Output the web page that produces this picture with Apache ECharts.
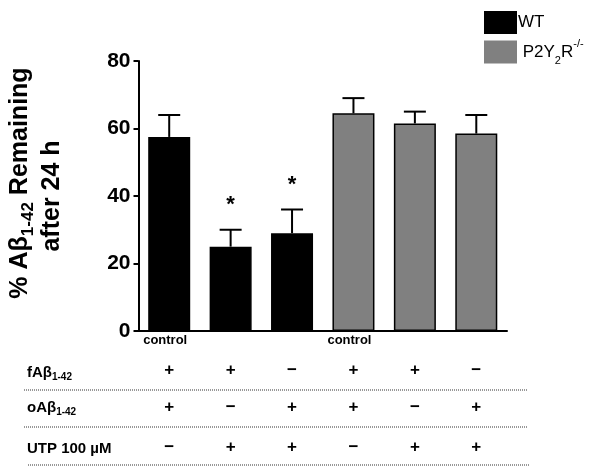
<!DOCTYPE html>
<html>
<head>
<meta charset="utf-8">
<script src="https://cdn.jsdelivr.net/npm/echarts@6/dist/echarts.min.js"></script>
<style>html,body{margin:0;padding:0;background:#fff;}#c{width:601px;height:472px;}</style>
</head>
<body>
<div id="c"></div>
<script>
const categories = ['WT control','WT fAβ UTP','WT oAβ UTP','KO control','KO fAβ UTP','KO oAβ UTP'];
const catLabels = ['control','','','control','',''];
const wtMean = [57.5, 25, 29, null, null, null];
const koMean = [null, null, null, 64.5, 61.5, 58.5];
const semUp = [6.5, 5, 7, 4.5, 3.5, 5.5];
const significant = ['', '*', '*', '', '', ''];
const fAbRow = ['+', '+', '−', '+', '+', '−'];
const oAbRow = ['+', '−', '+', '+', '−', '+'];
const utpRow = ['−', '+', '+', '−', '+', '+'];
const yTicks = [0, 20, 40, 60, 80];
const seriesNames = ['WT', 'P2Y2R-/-'];

const FONT = '"Liberation Sans", Arial, sans-serif';
const chart = echarts.init(document.getElementById('c'), null, {renderer: 'canvas'});

const errData = categories.map((c, i) => {
  const m = wtMean[i] != null ? wtMean[i] : koMean[i];
  return [i, m, m + semUp[i]];
});

function rowAxis(labels, offset) {
  return {
    type: 'category', gridIndex: 0, position: 'bottom', offset: offset,
    data: categories,
    axisLine: {show: false}, axisTick: {show: false},
    axisLabel: {
      interval: 0, margin: 0,
      formatter: (v, i) => labels[i],
      fontFamily: FONT, fontWeight: 'bold', fontSize: 17, color: '#000'
    }
  };
}

const option = {
  animation: false,
  backgroundColor: '#fff',
  grid: {left: 133, right: 94, top: 61, bottom: 141, containLabel: false},
  legend: {
    orient: 'vertical', left: 479, top: 6, itemWidth: 33, itemHeight: 23, itemGap: 4,
    icon: 'rect',
    data: [
      {name: seriesNames[0], itemStyle: {color: '#000', borderWidth: 0}},
      {name: seriesNames[1], itemStyle: {color: '#808080', borderWidth: 0}}
    ],
    formatter: name => name === 'WT' ? '{n|WT}' : '{n| P2Y}{s|2}{n|R}{p|-/-}',
    textStyle: {
      fontFamily: FONT, color: '#000', fontSize: 17, padding: [0, 0, 0, -4],
      rich: {
        n: {fontFamily: FONT, fontSize: 17, color: '#000', lineHeight: 22},
        s: {fontFamily: FONT, fontSize: 11, color: '#000', verticalAlign: 'bottom', lineHeight: 14},
        p: {fontFamily: FONT, fontSize: 11, color: '#000', verticalAlign: 'top', lineHeight: 28}
      }
    }
  },
  xAxis: [
    {
      type: 'category', data: categories, gridIndex: 0, position: 'bottom',
      axisLine: {lineStyle: {color: '#000', width: 2}},
      axisTick: {show: false},
      axisLabel: {
        interval: 0, margin: 3, padding: [0, 8, 0, 0],
        formatter: (v, i) => catLabels[i],
        fontFamily: FONT, fontWeight: 'bold', fontSize: 13, color: '#000'
      }
    },
    rowAxis(fAbRow, 31),
    rowAxis(oAbRow, 68),
    rowAxis(utpRow, 108)
  ],
  yAxis: {
    type: 'value', min: 0, max: 80, interval: 20,
    axisLine: {show: true, lineStyle: {color: '#000', width: 2}},
    axisTick: {show: true, length: 5, lineStyle: {color: '#000', width: 2}},
    splitLine: {show: false},
    axisLabel: {
      margin: 8, fontFamily: FONT, fontWeight: 'bold', fontSize: 21, color: '#000',
      formatter: v => yTicks.indexOf(v) >= 0 ? String(v) : ''
    },
    name: '{a1|% Aβ}{s|1-42}{a| Remaining}\n{a|after 24 h}',
    nameLocation: 'middle', nameRotate: 90, nameGap: 70,
    nameTextStyle: {
      fontFamily: FONT, fontWeight: 'bold', fontSize: 25, color: '#000', align: 'center',
      rich: {
        a1: {fontFamily: FONT, fontWeight: 'bold', fontSize: 25, color: '#000', lineHeight: 32, padding: [0, 0, 0, 26]},
        a: {fontFamily: FONT, fontWeight: 'bold', fontSize: 25, color: '#000', lineHeight: 32},
        s: {fontFamily: FONT, fontWeight: 'bold', fontSize: 17, color: '#000', verticalAlign: 'bottom', lineHeight: 28}
      }
    }
  },
  series: [
    {
      name: seriesNames[0], type: 'bar', data: wtMean, barWidth: 42, barGap: '-100%',
      itemStyle: {color: '#000', borderColor: '#000', borderWidth: 1.5}
    },
    {
      name: seriesNames[1], type: 'bar', data: koMean, barWidth: 42, barGap: '-100%',
      itemStyle: {color: '#808080', borderColor: '#000', borderWidth: 1.5}
    },
    {
      name: 'err', type: 'custom', data: errData, z: 5,
      renderItem: (params, api) => {
        const x = api.value(0);
        const lo = api.coord([x, api.value(1)]);
        const hi = api.coord([x, api.value(2)]);
        const cap = 11;
        const children = [
          {type: 'line', shape: {x1: lo[0], y1: lo[1], x2: hi[0], y2: hi[1]}, style: {stroke: '#000', lineWidth: 2}},
          {type: 'line', shape: {x1: hi[0] - cap, y1: hi[1], x2: hi[0] + cap, y2: hi[1]}, style: {stroke: '#000', lineWidth: 2}}
        ];
        const sig = significant[params.dataIndex];
        if (sig) {
          children.push({type: 'text', style: {text: sig, x: hi[0], y: hi[1] - 14, align: 'center', verticalAlign: 'bottom',
            font: 'bold 22px ' + FONT, fill: '#000'}});
        }
        return {type: 'group', children: children};
      }
    }
  ],
  graphic: [
    {type: 'text', left: 27, top: 365, style: {text: '{b|fAβ}{s|1-42}', rich: {
      b: {font: 'bold 15px ' + FONT, fill: '#000', lineHeight: 20},
      s: {font: 'bold 10px ' + FONT, fill: '#000', verticalAlign: 'bottom', lineHeight: 14}}}},
    {type: 'text', left: 27, top: 400, style: {text: '{b|oAβ}{s|1-42}', rich: {
      b: {font: 'bold 15px ' + FONT, fill: '#000', lineHeight: 20},
      s: {font: 'bold 10px ' + FONT, fill: '#000', verticalAlign: 'bottom', lineHeight: 14}}}},
    {type: 'text', left: 27, top: 441, style: {text: 'UTP 100 µM', font: 'bold 15px ' + FONT, fill: '#000'}},
    {type: 'line', shape: {x1: 24, y1: 390, x2: 528, y2: 390}, style: {stroke: '#777', lineWidth: 1.5, lineDash: [1, 1]}},
    {type: 'line', shape: {x1: 24, y1: 427, x2: 528, y2: 427}, style: {stroke: '#777', lineWidth: 1.5, lineDash: [1, 1]}},
    {type: 'line', shape: {x1: 28, y1: 465, x2: 530, y2: 465}, style: {stroke: '#777', lineWidth: 1.5, lineDash: [1, 1]}}
  ]
};
chart.setOption(option);
</script>
</body>
</html>
